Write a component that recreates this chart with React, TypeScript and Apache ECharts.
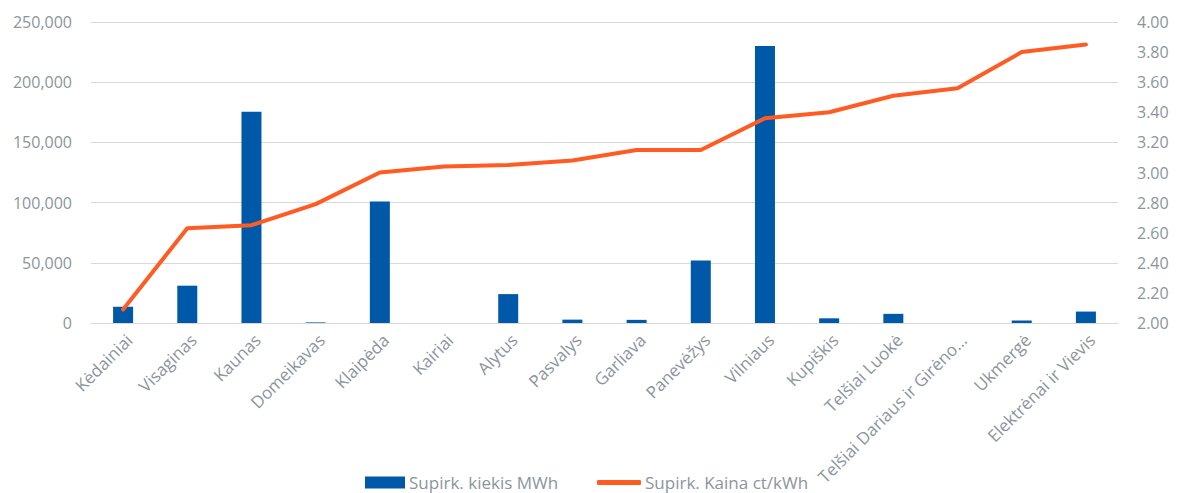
import React, { useEffect, useRef } from "react";
import * as echarts from "echarts";

const categories = [
  "Kėdainiai",
  "Visaginas",
  "Kaunas",
  "Domeikavas",
  "Klaipėda",
  "Kairiai",
  "Alytus",
  "Pasvalys",
  "Garliava",
  "Panevėžys",
  "Vilniaus",
  "Kupiškis",
  "Telšiai Luokė",
  "Telšiai Dariaus ir Girėno…",
  "Ukmergė",
  "Elektrėnai ir Vievis",
];

const quantityMWh = [
  13500, 31000, 175500, 500, 101000, 0, 24000, 2800, 2600, 52000, 230000, 3900,
  7600, 0, 2000, 9500,
];

const priceCt = [
  2.09, 2.63, 2.65, 2.79, 3.0, 3.04, 3.05, 3.08, 3.15, 3.15, 3.36, 3.4, 3.51,
  3.56, 3.8, 3.85,
];

const leftTicks = { min: 0, max: 250000, interval: 50000 };
const rightTicks = { min: 2.0, max: 4.0, interval: 0.2 };

const BAR_NAME = "Supirk. kiekis MWh";
const LINE_NAME = "Supirk. Kaina ct/kWh";

const FONT = "'Open Sans', 'Noto Sans', sans-serif";
const TXT = "#8c959c";
const GRID = "#d9d9d9";
const BLUE = "#0059a8";
const ORANGE = "#ff5b22";

export default function App() {
  const ref = useRef<HTMLDivElement>(null);
  useEffect(() => {
    if (!ref.current) return;
    const chart = echarts.init(ref.current, undefined, { renderer: "svg" });
    chart.setOption({
      animation: false,
      textStyle: { fontFamily: FONT },
      grid: { left: 91, right: 65, top: 22, bottom: 170, containLabel: false },
      legend: [
        {
          left: 365,
          top: 474,
          padding: 0,
          itemWidth: 40,
          itemHeight: 12,
          itemGap: 0,
          textStyle: { color: TXT, fontSize: 17, fontFamily: FONT, padding: [0, 0, 0, -1] },
          data: [{ name: BAR_NAME, icon: "rect" }],
        },
        {
          left: 597,
          top: 474,
          padding: 0,
          itemWidth: 44,
          itemHeight: 5,
          itemGap: 0,
          textStyle: { color: TXT, fontSize: 17, fontFamily: FONT, padding: [0, 0, 0, -1] },
          data: [{ name: LINE_NAME, icon: "roundRect" }],
        },
      ],
      xAxis: {
        type: "category",
        data: categories,
        axisLine: { lineStyle: { color: GRID, width: 1 } },
        axisTick: { show: false },
        axisLabel: {
          rotate: 45,
          interval: 0,
          margin: 8,
          verticalAlign: "top",
          color: TXT,
          fontSize: 17,
          fontFamily: FONT,
        },
      },
      yAxis: [
        {
          type: "value",
          ...leftTicks,
          axisLine: { show: false },
          axisTick: { show: false },
          splitLine: { lineStyle: { color: GRID, width: 1 } },
          axisLabel: {
            color: TXT,
            fontSize: 16,
            fontFamily: FONT,
            margin: 19,
            formatter: (v: number) => v.toLocaleString("en-US"),
          },
        },
        {
          type: "value",
          ...rightTicks,
          axisLine: { show: false },
          axisTick: { show: false },
          splitLine: { show: false },
          axisLabel: {
            color: TXT,
            fontSize: 16,
            fontFamily: FONT,
            margin: 19,
            formatter: (v: number) => v.toFixed(2),
          },
        },
      ],
      series: [
        {
          name: BAR_NAME,
          type: "bar",
          yAxisIndex: 0,
          data: quantityMWh,
          barWidth: 20,
          itemStyle: { color: BLUE },
        },
        {
          name: LINE_NAME,
          type: "line",
          yAxisIndex: 1,
          data: priceCt,
          symbol: "none",
          lineStyle: { color: ORANGE, width: 4, cap: "round", join: "round" },
          itemStyle: { color: ORANGE },
        },
      ],
    });
    return () => chart.dispose();
  }, []);
  return <div ref={ref} style={{ width: 1183, height: 493, marginLeft: -8, marginTop: -8 }} />;
}
